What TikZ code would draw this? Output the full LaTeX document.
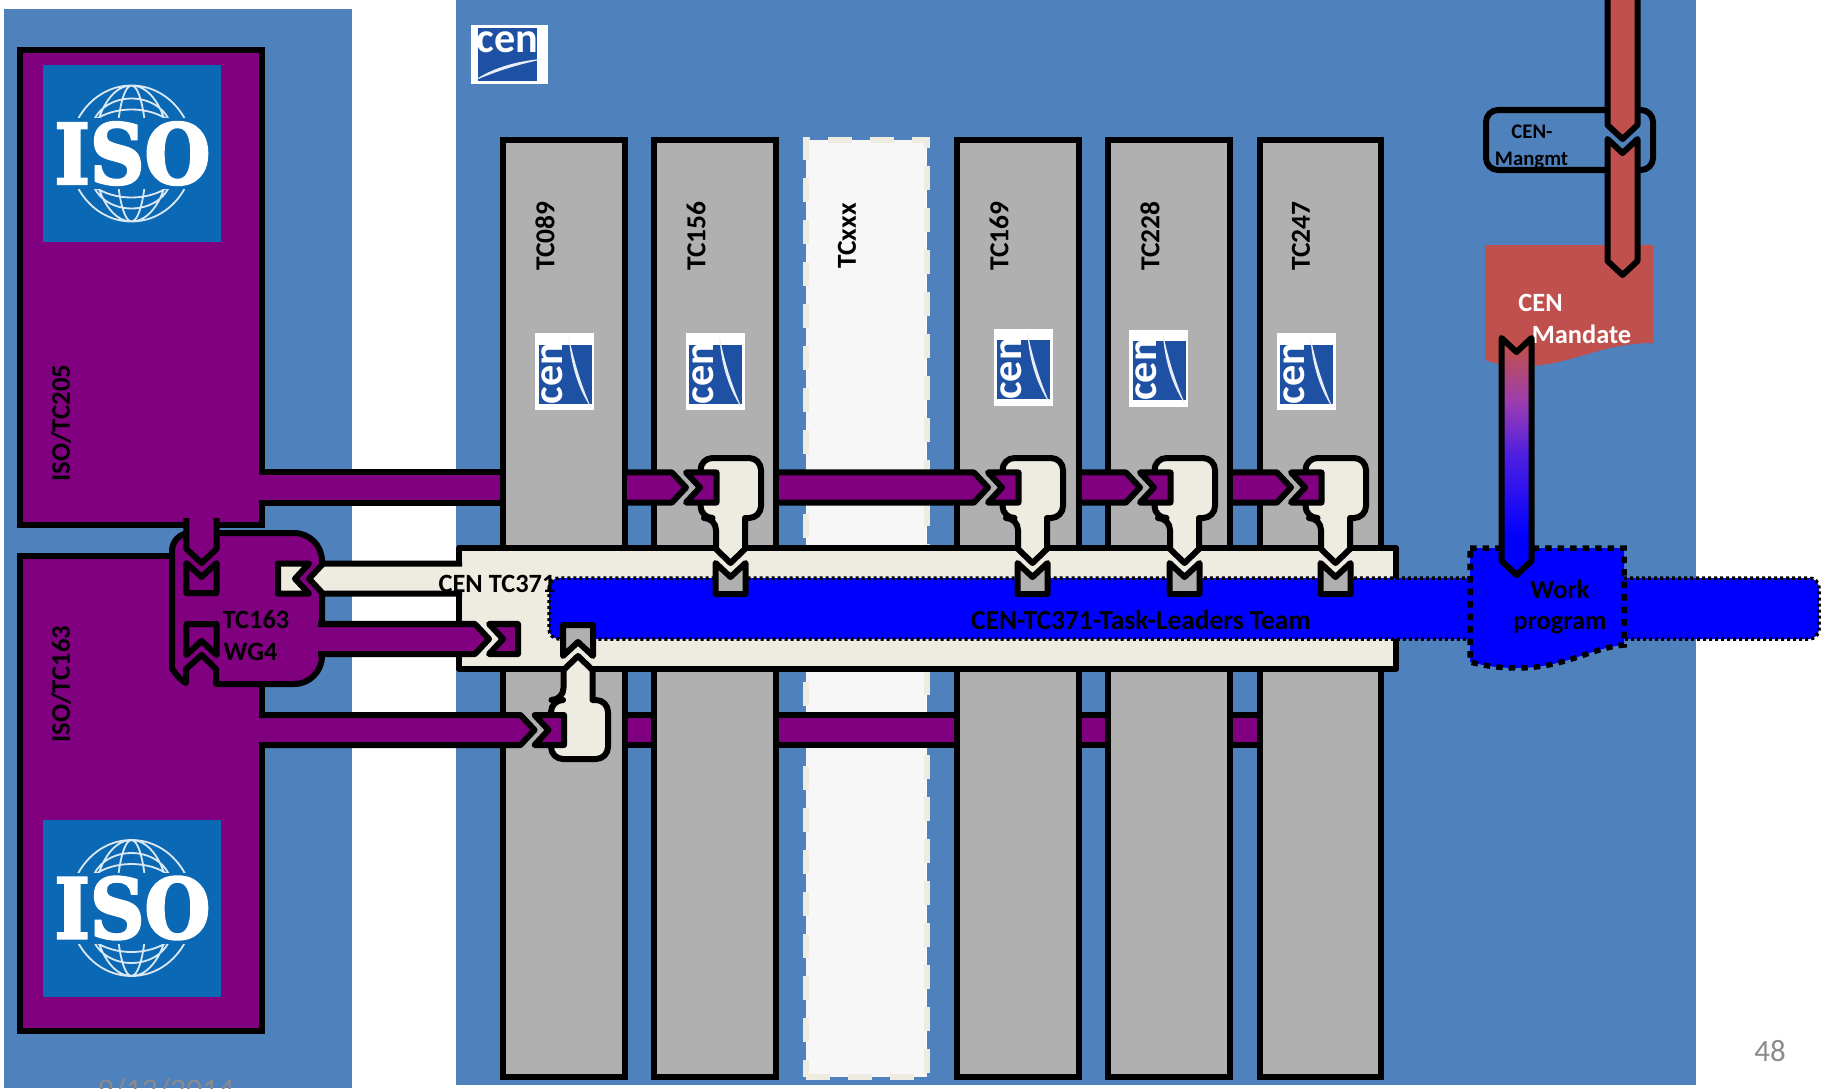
\documentclass[tikz,border=0pt]{standalone}
\usepackage{fontspec}
\setmainfont{Carlito}
\newfontfamily\isofont[FakeBold=3]{DejaVu Serif}
\usetikzlibrary{calc}
\definecolor{panelblue}{RGB}{79,129,189}
\definecolor{isopurple}{RGB}{128,0,128}
\definecolor{isoblue}{RGB}{10,104,180}
\definecolor{cenblue}{RGB}{30,80,163}
\definecolor{tcgray}{RGB}{176,176,176}
\definecolor{cream}{RGB}{238,236,225}
\definecolor{mandred}{RGB}{192,80,77}
\definecolor{fadelow}{RGB}{80,32,224}
\definecolor{fadehigh}{RGB}{154,60,176}
\definecolor{footgray}{RGB}{139,139,139}
\pgfdeclareverticalshading{mandfade}{100bp}{color(0bp)=(blue); color(33bp)=(blue); color(50.7bp)=(fadelow); color(61.3bp)=(fadehigh); color(73bp)=(mandred); color(100bp)=(mandred)}
\tikzset{
  flowline/.style={line width=0.06cm,line join=round},
  isologo/.pic={
    \fill[isoblue] (-89,-88.5) rectangle (89,88.5);
    \foreach \s in {-1,1}{
      \begin{scope}
        \clip (-70,\s*36) rectangle (70,\s*72);
        \draw[white!85!isoblue,line width=0.018cm] (0,0) ellipse (62 and 68) (0,0) ellipse (38 and 68) (0,0) ellipse (15 and 68)
          (0,\s*8) ellipse (52 and 36) (0,\s*22) ellipse (40 and 33);
      \end{scope}
    }
    \node[font=\isofont\bfseries\fontsize{21.5}{23}\selectfont,text=white,transform shape,yscale=1.1] (-word) at (1,0) {ISO};
  },
  cenlogo/.pic={
    \fill[white] (-38.5,-29.5) rectangle (38.5,29.5);
    \fill[cenblue] (-32,-26) rectangle (27,27);
    \fill[white!90!cenblue] (-37,27) .. controls (-15,12) and (10,6) .. (37,4) .. controls (12,9) and (-12,16) .. (-37,27);
    \node[font=\bfseries\fontsize{12}{13}\selectfont,text=white,transform shape,inner sep=0pt] (-word) at (-2,-12) {cen};
  }
}
% block arrows run between two named coordinates
\def\fw{0.15cm}
\newcommand{\flowbar}[3]{
  \fill[#1] ($(#2)!\fw!90:(#3)$) -- ($(#3)!\fw!-90:(#2)$) -- ($(#3)!\fw!90:(#2)$) -- ($(#2)!\fw!-90:(#3)$) -- cycle;
  \draw[flowline] ($(#2)!\fw!90:(#3)$) -- ($(#3)!\fw!-90:(#2)$) ($(#3)!\fw!90:(#2)$) -- ($(#2)!\fw!-90:(#3)$);
}
\newcommand{\flowhead}[3]{
  \coordinate (fs) at ($(#3)!0.14cm!(#2)$);
  \path[#1] ($(#2)!\fw!90:(#3)$) -- ($(fs)!\fw!90:(#3)$) -- (#3) -- ($(fs)!\fw!-90:(#3)$) -- ($(#2)!\fw!-90:(#3)$) -- cycle;
  \draw[flowline] ($(#2)!\fw!90:(#3)$) -- ($(fs)!\fw!90:(#3)$) -- (#3) -- ($(fs)!\fw!-90:(#3)$) -- ($(#2)!\fw!-90:(#3)$);
}
\newcommand{\flowsocket}[3]{
  \coordinate (fn) at ($(#3)!0.14cm!(#2)$);
  \path[flowline,draw,#1] ($(#2)!\fw!90:(#3)$) -- ($(#3)!\fw!-90:(#2)$) -- (fn) -- ($(#3)!\fw!90:(#2)$) -- ($(#2)!\fw!-90:(#3)$) -- cycle;
}
\newcommand{\flowthru}[3]{
  \coordinate (fn) at ($(#2)!0.14cm!(#3)$);
  \coordinate (fs) at ($(#3)!0.14cm!(#2)$);
  \path[flowline,draw,#1] ($(#2)!\fw!90:(#3)$) -- ($(fs)!\fw!90:(#3)$) -- (#3) -- ($(fs)!\fw!-90:(#3)$) -- ($(#2)!\fw!-90:(#3)$) -- (fn) -- cycle;
}
\begin{document}
\begin{tikzpicture}[x=0.01cm,y=-0.01cm,
  lbl/.style={font=\bfseries\fontsize{7.5}{9}\selectfont,inner sep=0pt},
  tcname/.style={font=\bfseries\fontsize{7.8}{9}\selectfont,inner sep=0pt,rotate=90},
  tcbox/.style={draw,line width=0.06cm,fill=tcgray,minimum width=1.215cm,minimum height=9.37cm,inner sep=0pt},
  tcfree/.style={draw=cream,line width=0.06cm,fill=white!97!black,dash pattern=on 0.24cm off 0.18cm,minimum width=1.215cm,minimum height=9.37cm,inner sep=0pt},
  isobox/.style={draw,line width=0.06cm,fill=isopurple},
  foot/.style={text=footgray,font=\fontsize{8.8}{10}\selectfont,inner sep=0pt},
  modbox/.style={draw,flowline,fill=cream}]
  \useasboundingbox (0,0) rectangle (1825,1088);
  \fill[panelblue] (3.5,9) rectangle (352,1088);
  \fill[panelblue] (456,0) rectangle (1696,1085);
  \pic (cenmain) at (509.5,54.5) {cenlogo};
  \node[foot,anchor=base,font=\fontsize{9}{10}\selectfont] (datetxt) at (166,1100) {9/12/2014};
  \node[foot] (pagenum) at (1770,1051) {48};

  \path[isobox] (20,50) rectangle (262,525);
  \path[isobox] (20,556) rectangle (262,1031);
  \pic (isotop) at (131.5,153.5) {isologo};
  \pic (isolow) at (131.5,908) {isologo};
  \node[tcname,font=\bfseries\fontsize{7.6}{9}\selectfont] (tc205) at (61,423) {ISO/TC205};
  \node[tcname,font=\bfseries\fontsize{7.6}{9}\selectfont] (tc163) at (61,684) {ISO/TC163};

  % bars that pass behind the columns
  \coordinate (tail205) at (259,487.5);
  \coordinate (stop205) at (510,487.5);
  \flowbar{isopurple}{tail205}{stop205}
  \node[tcfree] (tcxxx) at (866.5,608.5) {};
  \coordinate (tail089) at (600,730);
  \coordinate (stop247) at (1262,730);
  \flowbar{isopurple}{tail089}{stop247}
  \foreach \n/\x in {089/563.8,156/715.2,169/1018,228/1169.2,247/1320.5}
    \node[tcbox] (col\n) at (\x,608.5) {};
  \foreach \n/\x in {089/545,156/696,xxx/847,169/999,228/1150,247/1301}
    \node[tcname] (name\n) at (\x,236) {TC\n};
  \pic[rotate=90] (cen089) at (564.5,371.5) {cenlogo};
  \pic[rotate=90] (cen156) at (715,371.5) {cenlogo};
  \pic[rotate=90] (cen169) at (1023,367) {cenlogo};
  \pic[rotate=90] (cen228) at (1158.5,368) {cenlogo};
  \pic[rotate=90] (cen247) at (1306,371.5) {cenlogo};

  % CEN TC371 and the team band
  \path[draw,flowline,fill=cream] (459,548) rectangle (1396,669);
  \path[draw,fill=blue,line width=0.035cm,dash pattern=on 0.03cm off 0.03cm,rounded corners=0.1cm] (549,578) rectangle (1819,639);
  \node[lbl,font=\bfseries\fontsize{7.8}{9}\selectfont] (teamtxt) at (1141,620) {CEN-TC371-Task-Leaders Team};

  % work program
  \path[draw,fill=blue,line width=0.055cm,dash pattern=on 0.065cm off 0.06cm] (1470,548) -- (1624,548) -- (1624,645)
    .. controls (1590,648) and (1565,668) .. (1517,668) .. controls (1500,668) and (1485,666) .. (1470,662) -- cycle;
  \node[lbl] (worktxt) at (1560,589) {Work};
  \node[lbl] (progtxt) at (1560,625) {program};

  % mandate
  \fill[mandred] (1485,245) -- (1653,245) -- (1653,343)
    .. controls (1600,343) and (1570,366) .. (1525,366) .. controls (1508,366) and (1495,364) .. (1485,360) -- cycle;
  \node[lbl,text=white] (mandcen) at (1540.5,303) {CEN};
  \node[lbl,text=white] (mandword) at (1581.5,334) {Mandate};
  \path[draw,flowline,rounded corners=0.12cm] (1486,110) rectangle (1653,170);
  \node[lbl,font=\bfseries\fontsize{5.9}{7}\selectfont] (mgmtcen) at (1532,132) {CEN-};
  \node[lbl,font=\bfseries\fontsize{5.9}{7}\selectfont] (mgmtword) at (1531.5,161) {Mangmt};
  \coordinate (redtop) at (1622.5,-8);
  \coordinate (redhit) at (1622.5,139);
  \coordinate (redtip) at (1622.5,275);
  \flowhead{fill=mandred}{redtop}{redhit}
  \flowthru{fill=mandred}{redhit}{redtip}
  \coordinate (fadetop) at (1516.5,338);
  \coordinate (fadetip) at (1516.5,575);
  \flowthru{shading=mandfade}{fadetop}{fadetip}

  % TC163 WG4
  \path[draw,flowline,fill=isopurple] (216,684) [rounded corners=0.28cm] -- (322,684) -- (322,533) [rounded corners=0.18cm] -- (172,533) -- (172,650)
    [sharp corners] .. controls (172,668) and (177,678) .. (186,683) -- (186,669) -- (201.5,655) -- (216,669) -- cycle;
  \node[lbl] (wgtop) at (256,620) {TC163};
  \node[lbl,anchor=west] (wglow) at (223,652) {WG4};
  \coordinate (drop205) at (201.5,518);
  \coordinate (drophit) at (201.5,563);
  \coordinate (dropbase) at (201.5,593);
  \flowsocket{fill=isopurple}{dropbase}{drophit}
  \flowhead{fill=isopurple}{drop205}{drophit}
  \coordinate (risehit) at (201.5,655);
  \coordinate (risebase) at (201.5,624);
  \flowsocket{fill=isopurple}{risebase}{risehit}

  % links between WG4 and the band
  \coordinate (backtail) at (462,578.7);
  \coordinate (backhit) at (309,578.7);
  \coordinate (backbase) at (278,578.7);
  \flowsocket{fill=cream}{backbase}{backhit}
  \flowhead{fill=cream}{backtail}{backhit}
  \node[lbl] (cen371) at (497,584) {CEN TC371};
  \coordinate (wgtail) at (318,639);
  \coordinate (wghit) at (489,639);
  \coordinate (wgdock) at (518,639);
  \flowsocket{fill=isopurple}{wgdock}{wghit}
  \flowhead{fill=isopurple}{wgtail}{wghit}

  % module on TC089
  \coordinate (lowneck) at (578,656);
  \coordinate (lowbase) at (578,625);
  \flowsocket{fill=tcgray}{lowbase}{lowneck}
  \path[modbox] (563.5,670) -- (lowneck) -- (592.5,670) -- (592.5,700) [rounded corners=0.12cm] -- (608,700) -- (608,759) -- (551,759) -- (551,700) -- (563.5,700) [sharp corners] -- cycle;
  \coordinate (lowtail) at (259,730);
  \coordinate (lowhit) at (534.5,730);
  \coordinate (lowdock) at (564,730);
  \flowsocket{fill=isopurple}{lowdock}{lowhit}
  \flowhead{fill=isopurple}{lowtail}{lowhit}

  % modules on the other columns
  \foreach \n/\cx/\bx in {156/730.5/627,169/1032.5/779,228/1184.5/1082,247/1335.5/1233}{
    \coordinate (tail\n) at (\bx,487.5);
    \coordinate (hit\n) at (\cx-44.5,487.5);
    \coordinate (dock\n) at (\cx-14,487.5);
    \coordinate (neck\n) at (\cx,563);
    \coordinate (base\n) at (\cx,594);
    \flowsocket{fill=tcgray}{base\n}{neck\n}
    \path[modbox] (\cx-14.5,549) -- (neck\n) -- (\cx+14.5,549) -- (\cx+14.5,518) [rounded corners=0.12cm] -- (\cx+30.5,518) -- (\cx+30.5,458) -- (\cx-30,458) -- (\cx-30,518) -- (\cx-14.5,518) [sharp corners] -- cycle;
    \flowsocket{fill=isopurple}{dock\n}{hit\n}
    \flowhead{fill=isopurple}{tail\n}{hit\n}
  }
\end{tikzpicture}
\end{document}
